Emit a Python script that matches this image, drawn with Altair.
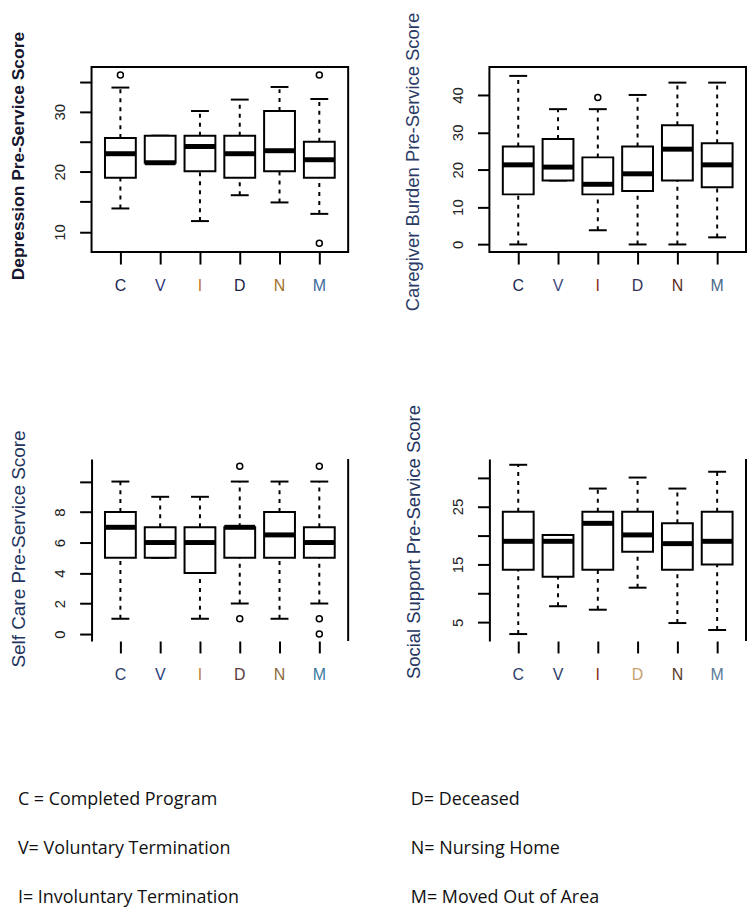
import altair as alt
import pandas as pd

groups = ["C", "V", "I", "D", "N", "M"]

# Panel 1: Depression Pre-Service Score
dep_lower = [13.9, 21.5, 11.8, 16.1, 14.9, 13.0]
dep_q1 = [19.0, 21.5, 20.1, 19.0, 20.1, 19.0]
dep_median = [23.0, 21.5, 24.2, 23.0, 23.5, 22.0]
dep_q3 = [25.6, 26.0, 26.0, 26.0, 30.1, 25.0]
dep_upper = [34.0, 26.0, 30.1, 32.0, 34.1, 32.1]
dep_out_group = ["C", "M", "M"]
dep_out_value = [36.1, 36.1, 8.1]

# Panel 2: Caregiver Burden Pre-Service Score
cb_lower = [0.0, 17.1, 3.8, 0.0, 0.0, 1.9]
cb_q1 = [13.4, 17.1, 13.4, 14.3, 17.1, 15.3]
cb_median = [21.3, 20.7, 16.1, 18.9, 25.5, 21.3]
cb_q3 = [26.2, 28.2, 23.3, 26.2, 31.9, 27.1]
cb_upper = [45.1, 36.2, 36.2, 40.0, 43.3, 43.3]
cb_out_group = ["I"]
cb_out_value = [39.3]

# Panel 3: Self Care Pre-Service Score
sc_lower = [1, 5, 1, 2, 1, 2]
sc_q1 = [5, 5, 4, 5, 5, 5]
sc_median = [7, 6, 6, 7, 6.5, 6]
sc_q3 = [8, 7, 7, 7, 8, 7]
sc_upper = [10, 9, 9, 10, 10, 10]
sc_out_group = ["D", "D", "M", "M", "M"]
sc_out_value = [11, 1, 11, 1, 0]

# Panel 4: Social Support Pre-Service Score
ss_lower = [3.0, 7.8, 7.2, 11.0, 4.9, 3.7]
ss_q1 = [14.1, 12.9, 14.1, 17.2, 14.1, 15.0]
ss_median = [19.0, 19.0, 22.1, 20.1, 18.6, 19.0]
ss_q3 = [24.1, 20.1, 24.1, 24.1, 22.1, 24.1]
ss_upper = [32.2, 20.1, 28.1, 30.0, 28.1, 31.0]
ss_out_group = []
ss_out_value = []

legend_labels = ["C = Completed Program", "V= Voluntary Termination", "I=  Involuntary Termination",
                 "D= Deceased", "N= Nursing Home", "M= Moved Out of Area"]
legend_col = [0, 0, 0, 1, 1, 1]
legend_row = [0, 1, 2, 0, 1, 2]

FONT = "Liberation Sans"
W = 258


def panel(lower, q1, med, q3, upper, out_g, out_v, title, domain, ticks, labeled, height,
          full_frame, title_size, title_weight, title_color, title_x, title_y, label_colors):
    stats = pd.DataFrame({"group": groups, "lower": lower, "q1": q1, "median": med,
                          "q3": q3, "upper": upper})
    cond = [{"test": f"datum.value === '{g}'", "value": c}
            for g, c in zip(groups[1:], label_colors[1:])]
    xaxis = alt.Axis(title=None, labelAngle=0, domain=False, tickSize=12, tickWidth=2,
                     tickColor="black", labelFont=FONT, labelFontSize=16, labelPadding=14,
                     labelBaseline="top",
                     labelColor={"condition": cond, "value": label_colors[0]})
    xenc = alt.X("group:N", sort=groups,
                 scale=alt.Scale(domain=groups, paddingInner=0, paddingOuter=0.225),
                 axis=xaxis)
    lab_list = ",".join(str(v) for v in labeled)
    yaxis = alt.Axis(title=title, values=ticks,
                     labelExpr=f"indexof([{lab_list}], datum.value) >= 0 ? datum.label : ''",
                     grid=False, tickSize=12, tickWidth=2, tickColor="black",
                     domain=not full_frame, domainColor="black", domainWidth=2,
                     labelAngle=270, labelAlign="center", labelBaseline="alphabetic",
                     labelPadding=15, labelFont=FONT, labelFontSize=15, labelColor="#222222",
                     labelOverlap=False,
                     titleFont=FONT, titleFontSize=title_size, titleFontWeight=title_weight,
                     titleColor=title_color, titleAngle=270, titleAlign="center",
                     titleBaseline="middle", titleX=title_x, titleY=title_y)
    yscale = alt.Scale(domain=domain, nice=False, zero=False)

    def Y(field):
        return alt.Y(f"{field}:Q", scale=yscale, axis=yaxis)

    base = alt.Chart(stats)
    w_up = base.mark_rule(strokeDash=[4, 5], strokeWidth=2, color="black").encode(
        x=xenc, y=Y("q3"), y2=alt.Y2("upper"))
    w_lo = base.mark_rule(strokeDash=[4, 5], strokeWidth=2, color="black").encode(
        x=xenc, y=Y("lower"), y2=alt.Y2("q1"))
    cap_up = base.mark_tick(size=18, thickness=2, color="black", opacity=1).encode(
        x=xenc, y=Y("upper"))
    cap_lo = base.mark_tick(size=18, thickness=2, color="black", opacity=1).encode(
        x=xenc, y=Y("lower"))
    box = base.mark_bar(size=31, fill="white", stroke="black", strokeWidth=2).encode(
        x=xenc, y=Y("q1"), y2=alt.Y2("q3"))
    mid = base.mark_tick(size=31, thickness=5, color="black", opacity=1).encode(
        x=xenc, y=Y("median"))
    layers = [w_up, w_lo, cap_up, cap_lo, box, mid]
    if out_g:
        outs = pd.DataFrame({"group": out_g, "value": out_v})
        pts = alt.Chart(outs).mark_point(shape="circle", size=36, filled=False,
                                         stroke="black", strokeWidth=1.5, opacity=1).encode(
            x=xenc, y=Y("value"))
        layers.append(pts)
    if not full_frame:
        right = alt.Chart(pd.DataFrame({"k": [0]})).mark_rule(color="black", strokeWidth=2).encode(
            x=alt.value(W), y=alt.value(0), y2=alt.value(height))
        layers.append(right)
    ch = alt.layer(*layers).properties(width=W, height=height)
    if full_frame:
        ch = ch.properties(view=alt.ViewBackground(stroke="black", strokeWidth=2))
    else:
        ch = ch.properties(view=alt.ViewBackground(stroke=None))
    return ch


p1 = panel(dep_lower, dep_q1, dep_median, dep_q3, dep_upper, dep_out_group, dep_out_value,
           "Depression Pre-Service Score", [6.64, 37.4], [10, 15, 20, 25, 30, 35], [10, 20, 30],
           186, True, 17.5, "bold", "#15152e", -73, 89,
           ["#1a2550", "#2a3a7a", "#c07830", "#222244", "#a0702a", "#3a6a9a"])
p2 = panel(cb_lower, cb_q1, cb_median, cb_q3, cb_upper, cb_out_group, cb_out_value,
           "Caregiver Burden Pre-Service Score", [-2.05, 47.45], [0, 10, 20, 30, 40],
           [0, 10, 20, 30, 40], 186, True, 18.5, "normal", "#2b3b66", -77, 95,
           ["#1a2550", "#3a4a7a", "#8a2a1a", "#333355", "#5a2a1a", "#4a6a8a"])
p3 = panel(sc_lower, sc_q1, sc_median, sc_q3, sc_upper, sc_out_group, sc_out_value,
           "Self Care Pre-Service Score", [-0.46, 11.48], [0, 2, 4, 6, 8, 10], [0, 2, 4, 6, 8],
           183, False, 19, "normal", "#23345e", -73, 90,
           ["#2a3a6a", "#2a3a7a", "#c08040", "#5a3a3a", "#8a6a3a", "#3a7aa0"])
p4 = panel(ss_lower, ss_q1, ss_median, ss_q3, ss_upper, ss_out_group, ss_out_value,
           "Social Support Pre-Service Score", [1.8, 33.2], [5, 10, 15, 20, 25, 30], [5, 15, 25],
           183, False, 18.5, "normal", "#23345e", -76, 83,
           ["#2a3a6a", "#2a3a6a", "#8a2a1a", "#c8a070", "#5a3a2a", "#5a7a9a"])

legend_df = pd.DataFrame({"label": legend_labels, "col": legend_col, "row": legend_row})
legend = alt.Chart(legend_df).mark_text(align="left", baseline="middle", font="Open Sans",
                                        fontSize=18, color="#111111", dx=-74).encode(
    x=alt.X("col:O", axis=None, scale=alt.Scale(type="point", padding=0)),
    y=alt.Y("row:O", axis=None, scale=alt.Scale(type="point", padding=0)),
    text="label:N",
).properties(width=395, height=98, view=alt.ViewBackground(stroke=None))

grid = alt.concat(p1, p2, p3, p4, columns=2, spacing={"row": 208, "column": 142}, bounds="flush")
chart = alt.vconcat(grid, legend, spacing=109).properties(padding=0).configure_view(
    stroke=None).configure(font=FONT)

chart.save("out.html", embed_options={"renderer": "svg", "actions": False})
